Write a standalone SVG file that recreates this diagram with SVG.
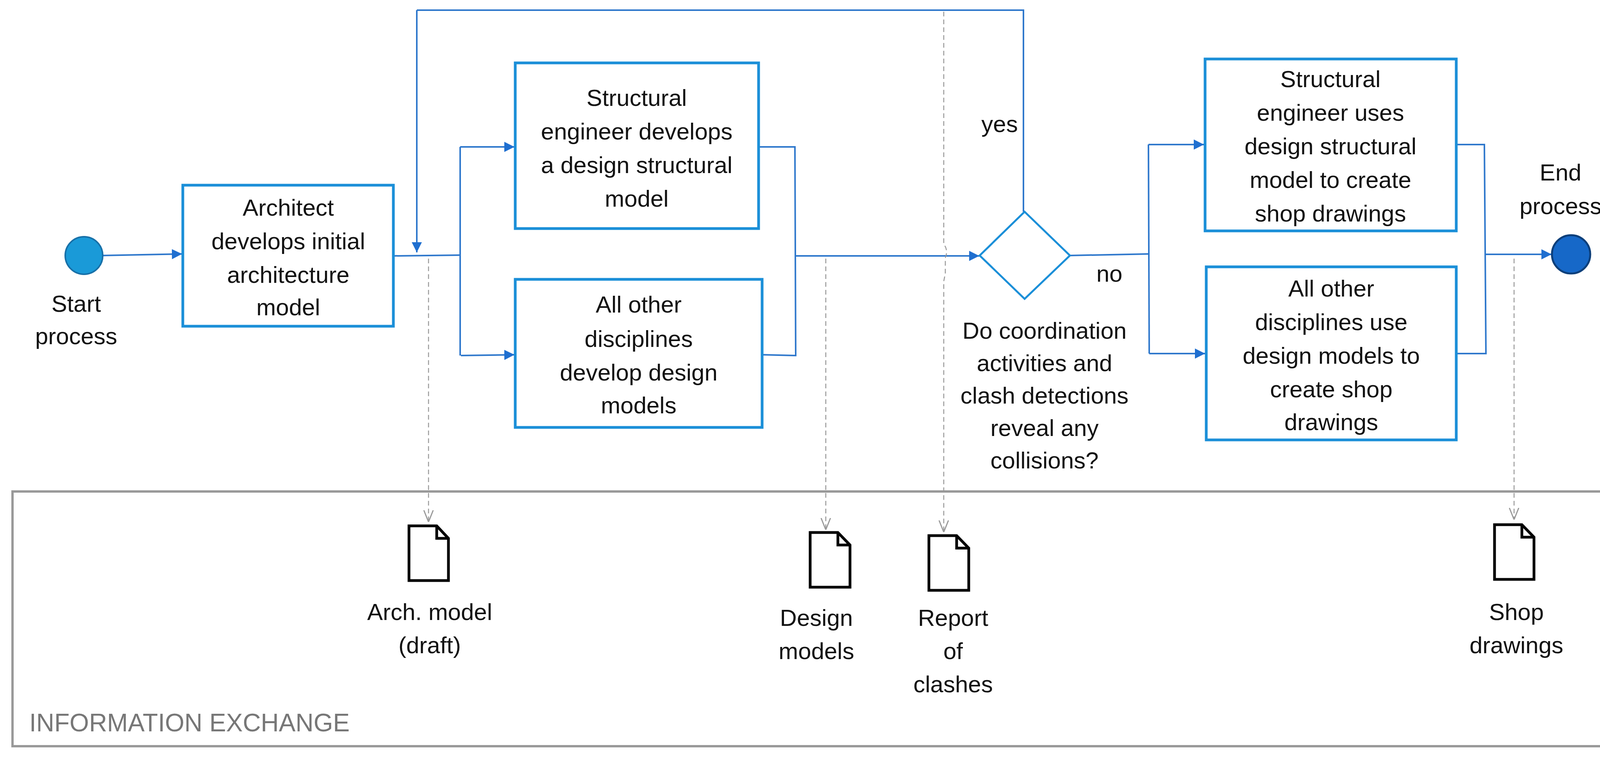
<svg xmlns="http://www.w3.org/2000/svg" width="4218" height="1953" viewBox="0 0 4218 1953">
<style>
text{font-family:"Liberation Sans",Arial,sans-serif;font-size:60px;fill:#111;text-anchor:middle}
.box{fill:#fff;stroke:#1b8fd8;stroke-width:7}
.ln{fill:none;stroke:#2f78cc;stroke-width:4}
.dash{fill:none;stroke:#999;stroke-width:2.5;stroke-dasharray:12 8}
.doc{fill:#fff;stroke:#000;stroke-width:7}
</style>
<defs>
<marker id="ar" viewBox="0 0 10 10" refX="10" refY="5" markerWidth="26" markerHeight="30" markerUnits="userSpaceOnUse" orient="auto"><path d="M0,0 L10,5 L0,10 z" fill="#1f6fd0"/></marker>
<marker id="ga" viewBox="0 0 10 10" refX="10" refY="5" markerWidth="30" markerHeight="30" markerUnits="userSpaceOnUse" orient="auto"><path d="M0,1 L10,5 L0,9" fill="none" stroke="#999" stroke-width="1"/></marker>
</defs>
<g id="lane"><rect x="32" y="1258" width="4156" height="652" fill="none" stroke="#999" stroke-width="6"/><text x="75" y="1872" style="text-anchor:start;fill:#777;font-size:64px">INFORMATION EXCHANGE</text></g>
<g id="connectors">
<path class="ln" d="M263,654 L466,650" marker-end="url(#ar)"/>
<path class="ln" d="M1007,655 L1178,653"/>
<path class="ln" d="M1067,26 L2620,26 L2620,542"/>
<path class="ln" d="M1067,26 L1067,646" marker-end="url(#ar)"/>
<path class="ln" d="M1178,376 L1178,910"/>
<path class="ln" d="M1178,376 L1317,376" marker-end="url(#ar)"/>
<path class="ln" d="M1180,910 L1317,908" marker-end="url(#ar)"/>
<path class="ln" d="M1942,376 L2035,376 L2037,910 L1952,908"/>
<path class="ln" d="M2037,655 L2507,655" marker-end="url(#ar)"/>
<path class="ln" d="M2739,654 L2940,650"/>
<path class="ln" d="M2940,370 L2942,905"/>
<path class="ln" d="M2940,370 L3082,370" marker-end="url(#ar)"/>
<path class="ln" d="M2942,905 L3085,905" marker-end="url(#ar)"/>
<path class="ln" d="M3728,370 L3800,370 L3804,905 L3728,905"/>
<path class="ln" d="M3802,651 L3972,651" marker-end="url(#ar)"/>
<path class="dash" d="M1097,662 L1097,1336" marker-end="url(#ga)"/>
<path class="dash" d="M2114,662 L2114,1356" marker-end="url(#ga)"/>
<path class="dash" d="M2416,30 L2416,625 Q2428,640 2420,660 L2420,700 L2416,720 L2416,1362" marker-end="url(#ga)"/>
<path class="dash" d="M3876,662 L3876,1330" marker-end="url(#ga)"/>
</g>
<g id="start"><circle cx="215" cy="654" r="48" fill="#1a9ad8" stroke="#1770a8" stroke-width="4"/><text x="195" y="798">Start</text><text x="195" y="881">process</text></g>
<g id="arch"><rect class="box" x="468" y="474" width="539" height="361"/><text x="738" y="552">Architect</text><text x="738" y="638">develops initial</text><text x="738" y="724">architecture</text><text x="738" y="807">model</text></g>
<g id="struct1"><rect class="box" x="1319" y="161" width="623" height="424"/><text x="1630" y="271">Structural</text><text x="1630" y="357">engineer develops</text><text x="1630" y="443">a design structural</text><text x="1630" y="529">model</text></g>
<g id="other1"><rect class="box" x="1319" y="715" width="632" height="379"/><text x="1635" y="800">All other</text><text x="1635" y="888">disciplines</text><text x="1635" y="974">develop design</text><text x="1635" y="1058">models</text></g>
<g id="decision"><path d="M2623,542 L2739,654 L2623,765 L2508,654 z" fill="#fff" stroke="#1b8fd8" stroke-width="5"/><text x="2559" y="338">yes</text><text x="2840" y="721">no</text><text x="2674" y="867">Do coordination</text><text x="2674" y="950">activities and</text><text x="2674" y="1033">clash detections</text><text x="2674" y="1116">reveal any</text><text x="2674" y="1199">collisions?</text></g>
<g id="struct2"><rect class="box" x="3085" y="151" width="643" height="440"/><text x="3406" y="223">Structural</text><text x="3406" y="309">engineer uses</text><text x="3406" y="395">design structural</text><text x="3406" y="481">model to create</text><text x="3406" y="567">shop drawings</text></g>
<g id="other2"><rect class="box" x="3088" y="683" width="640" height="443"/><text x="3408" y="759">All other</text><text x="3408" y="845">disciplines use</text><text x="3408" y="931">design models to</text><text x="3408" y="1017">create shop</text><text x="3408" y="1101">drawings</text></g>
<g id="end"><circle cx="4022" cy="651" r="49" fill="#1668c8" stroke="#0d3f7a" stroke-width="5"/><text x="3995" y="462">End</text><text x="3995" y="548">process</text></g>
<g id="doc1"><path class="doc" d="M1047,1346 L1118,1346 L1148,1378 L1148,1486 L1047,1486 z M1118,1346 L1118,1378 L1148,1378"/><text x="1100" y="1587">Arch. model</text><text x="1100" y="1672">(draft)</text></g>
<g id="doc2"><path class="doc" d="M2074,1363 L2145,1363 L2176,1395 L2176,1503 L2074,1503 z M2145,1363 L2145,1395 L2176,1395"/><text x="2090" y="1602">Design</text><text x="2090" y="1687">models</text></g>
<g id="doc3"><path class="doc" d="M2378,1371 L2449,1371 L2480,1403 L2480,1511 L2378,1511 z M2449,1371 L2449,1403 L2480,1403"/><text x="2440" y="1602">Report</text><text x="2440" y="1687">of</text><text x="2440" y="1772">clashes</text></g>
<g id="doc4"><path class="doc" d="M3826,1343 L3896,1343 L3927,1375 L3927,1483 L3826,1483 z M3896,1343 L3896,1375 L3927,1375"/><text x="3882" y="1587">Shop</text><text x="3882" y="1672">drawings</text></g>
</svg>
